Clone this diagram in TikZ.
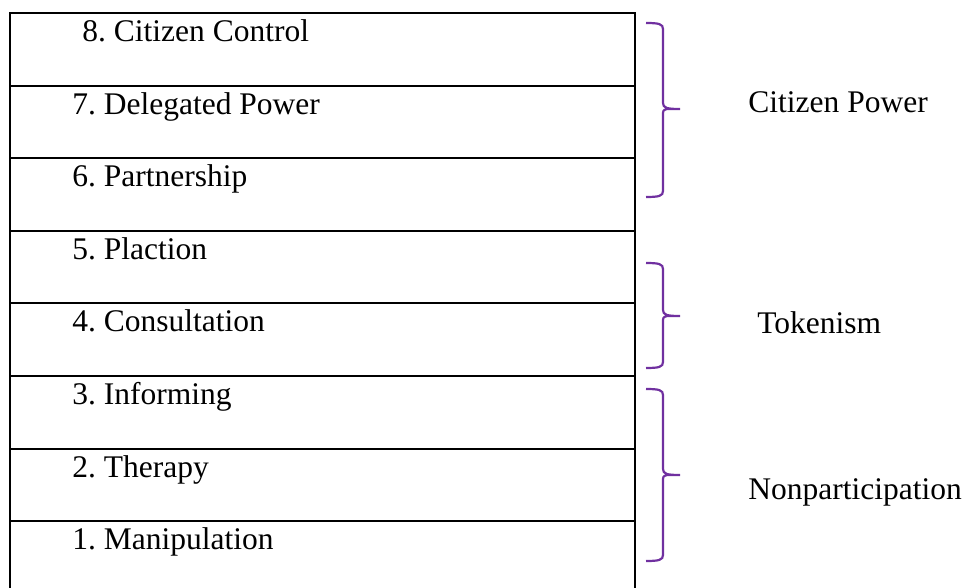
\documentclass[tikz,border=0pt]{standalone}
\usepackage{fontspec}
\setmainfont{Liberation Serif}
\usetikzlibrary{positioning}
\definecolor{bracepurple}{RGB}{112,48,160}
\frenchspacing
% curly brace on the right of the ladder: top y, bottom y, tip y (pixel units)
\newcommand{\ladderbrace}[3]{%
  \draw[bracepen] (646,#1) .. controls (659,#1) and (663,{#1+1}) .. (663,{#1+6})
    -- (663,{#3-6}) .. controls (663,{#3-1}) and (667,#3) .. (680,#3)
    -- (667,#3) .. controls (663,{#3+1}) and (663,{#3+2}) .. (663,{#3+6})
    -- (663,{#2-6}) .. controls (663,{#2-1}) and (659,#2) .. (646,#2);}

\begin{document}
\begin{tikzpicture}[
  x=0.5pt, y=-0.5pt,
  font=\fontsize{15.75}{18}\selectfont,
  rung/.style={draw, line width=1pt, minimum width=312.5pt, minimum height=36.3pt, outer sep=0pt, inner sep=0pt},
  rungtext/.style={anchor=base west, inner sep=0pt},
  group/.style={anchor=base west, inner sep=0pt},
  bracepen/.style={draw=bracepurple, line width=1.1pt}
]
  \useasboundingbox (0,0) rectangle (969,588);
  \clip (0,0) rectangle (969,588);

  % Ladder rungs, stacked
  \node[rung, anchor=north west] (r8) at (10,13) {};
  \node[rung, below=0pt of r8] (r7) {};
  \node[rung, below=0pt of r7] (r6) {};
  \node[rung, below=0pt of r6] (r5) {};
  \node[rung, below=0pt of r5] (r4) {};
  \node[rung, below=0pt of r4] (r3) {};
  \node[rung, below=0pt of r3] (r2) {};
  \node[rung, below=0pt of r2] (r1) {};

  % Rung labels
  \node[rungtext] (t8) at ([xshift=36pt, yshift=-14.25pt] r8.north west) {8. Citizen Control};
  \node[rungtext] (t7) at ([xshift=31pt, yshift=-14.25pt] r7.north west) {7. Delegated Power};
  \node[rungtext] (t6) at ([xshift=31pt, yshift=-14.25pt] r6.north west) {6. Partnership};
  \node[rungtext] (t5) at ([xshift=31pt, yshift=-14.25pt] r5.north west) {5. Plaction};
  \node[rungtext] (t4) at ([xshift=31pt, yshift=-14.25pt] r4.north west) {4. Consultation};
  \node[rungtext] (t3) at ([xshift=31pt, yshift=-14.25pt] r3.north west) {3. Informing};
  \node[rungtext] (t2) at ([xshift=31pt, yshift=-14.25pt] r2.north west) {2. Therapy};
  \node[rungtext] (t1) at ([xshift=31pt, yshift=-14.25pt] r1.north west) {1. Manipulation};

  % Braces and group names
  \ladderbrace{23}{197}{109}
  \node[group] (power) at (748,113) {Citizen Power};
  \ladderbrace{263}{368}{316}
  \node[group] (token) at (757,334) {Tokenism};
  \ladderbrace{389}{561}{475}
  \node[group] (nonpart) at (748,499) {Nonparticipation};
\end{tikzpicture}
\end{document}
